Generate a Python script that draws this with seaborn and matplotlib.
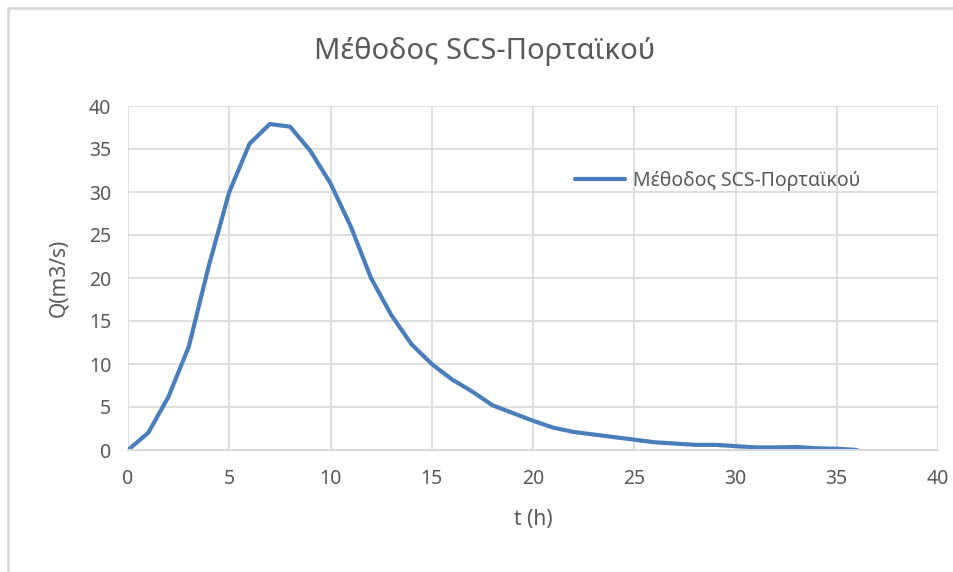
import matplotlib
matplotlib.use("Agg")
import matplotlib.pyplot as plt
import seaborn as sns
import pandas as pd
from matplotlib.lines import Line2D

t_hours = list(range(0, 37))
q_values = [0, 2.0, 6.2, 12.0, 21.5, 30.0, 35.6, 37.9, 37.6, 34.8,
            31.0, 26.0, 20.0, 15.7, 12.3, 10.0, 8.2, 6.8, 5.2, 4.3,
            3.4, 2.6, 2.1, 1.8, 1.5, 1.2, 0.9, 0.75, 0.6, 0.6,
            0.45, 0.3, 0.3, 0.35, 0.2, 0.15, 0.0]
series_name = "Μέθοδος SCS-Πορταϊκού"
title_text = "Μέθοδος SCS-Πορταϊκού"
x_label = "t (h)"
y_label = "Q(m3/s)"
x_ticks = [0, 5, 10, 15, 20, 25, 30, 35, 40]
y_ticks = [0, 5, 10, 15, 20, 25, 30, 35, 40]

df = pd.DataFrame({"t": t_hours, "Q": q_values, "series": series_name})

sns.set_theme(style="white")
plt.rcParams['font.family'] = ['Noto Sans', 'DejaVu Sans']

text_color = "#595959"
grid_color = "#D9D9D9"
line_color = "#4A7EBB"

fig = plt.figure(figsize=(9.54, 5.72), dpi=100)
ax = fig.add_axes([128/954, 1-450/572, (938-128)/954, (450-106)/572])

sns.lineplot(data=df, x="t", y="Q", hue="series", palette=[line_color],
             linewidth=3, ax=ax, legend=False)

ax.set_xlim(0, 40)
ax.set_ylim(0, 40)
ax.set_xticks(x_ticks)
ax.set_yticks(y_ticks)
ax.grid(True, color=grid_color, linewidth=1.2)
ax.set_axisbelow(True)
for s in ["top", "left", "right"]:
    ax.spines[s].set_visible(False)
ax.spines["bottom"].set_color(grid_color)
ax.spines["bottom"].set_linewidth(1.5)
ax.tick_params(axis="x", length=0, labelsize=14, labelcolor=text_color, pad=14)
ax.tick_params(axis="y", length=0, labelsize=14, labelcolor=text_color, pad=12)
ax.set_xlabel(x_label, fontsize=15, color=text_color, labelpad=14)
ax.set_ylabel(y_label, fontsize=15, color=text_color, labelpad=14)

fig.text(485/954, 1-52/572, title_text, ha="center", va="center",
         fontsize=21, color=text_color)

handle = Line2D([0], [0], color=line_color, linewidth=3)
leg = ax.legend([handle], [series_name], loc="center left",
                bbox_to_anchor=(557/954, 1-181/572), bbox_transform=fig.transFigure,
                frameon=False, fontsize=14, handlelength=2.6, handletextpad=0.4)
for txt in leg.get_texts():
    txt.set_color(text_color)

# outer chart border (left and top)
fig.add_artist(Line2D([8/954, 8/954], [0, 1-8/572], color=grid_color, linewidth=2,
                      transform=fig.transFigure))
fig.add_artist(Line2D([8/954, 1], [1-8/572, 1-8/572], color=grid_color, linewidth=2,
                      transform=fig.transFigure))

fig.savefig("out.png", dpi=100)
